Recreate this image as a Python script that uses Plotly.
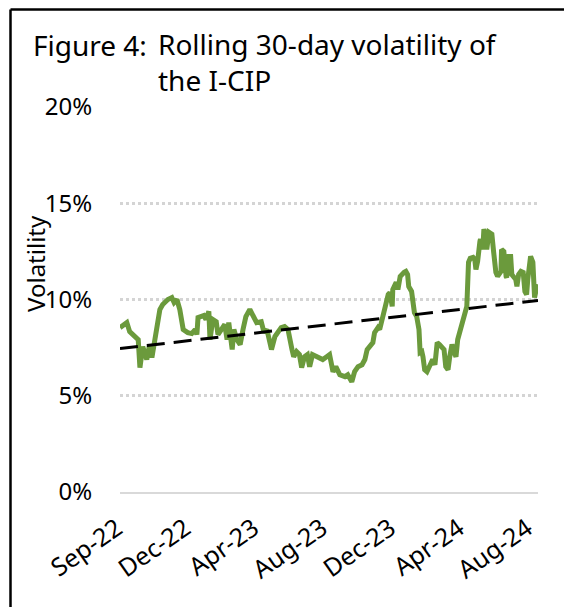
import plotly.graph_objects as go

# ---- data ----
dates = [
    "2022-08-25","2022-09-06","2022-09-11","2022-09-16","2022-09-26","2022-09-29","2022-10-04","2022-10-11",
    "2022-10-16","2022-10-20","2022-10-25","2022-10-29","2022-11-03","2022-11-08","2022-11-17","2022-11-24",
    "2022-11-28","2022-12-03","2022-12-08","2022-12-14","2022-12-22","2022-12-29","2023-01-04","2023-01-07",
    "2023-01-09","2023-01-19","2023-01-23","2023-01-28","2023-01-30","2023-02-04","2023-02-10","2023-02-13",
    "2023-02-20","2023-02-25","2023-03-01","2023-03-04","2023-03-10","2023-03-13","2023-03-18","2023-03-24",
    "2023-03-29","2023-04-03","2023-04-10","2023-04-17","2023-04-22","2023-04-30","2023-05-05","2023-05-10",
    "2023-05-15","2023-05-18","2023-05-24","2023-05-29","2023-06-04","2023-06-10","2023-06-16","2023-06-23",
    "2023-06-26","2023-07-01","2023-07-06","2023-07-10","2023-07-15","2023-07-20","2023-07-24","2023-07-29",
    "2023-08-06","2023-08-11","2023-08-16","2023-08-23","2023-08-28","2023-09-03","2023-09-08","2023-09-15",
    "2023-09-24","2023-09-29","2023-10-06","2023-10-11","2023-10-17","2023-10-24","2023-10-29","2023-11-02",
    "2023-11-07","2023-11-12","2023-11-15","2023-11-21","2023-11-24","2023-11-28","2023-12-02","2023-12-05",
    "2023-12-09","2023-12-12","2023-12-16","2023-12-17","2023-12-23","2023-12-26","2023-12-30","2024-01-06",
    "2024-01-09","2024-01-12","2024-01-14","2024-01-19","2024-01-21","2024-01-24","2024-01-28","2024-02-01",
    "2024-02-03","2024-02-06","2024-02-08","2024-02-11","2024-02-15","2024-02-18","2024-02-22","2024-02-25",
    "2024-02-29","2024-03-04","2024-03-08","2024-03-12","2024-03-16","2024-03-19","2024-03-23","2024-03-26",
    "2024-03-30","2024-04-03","2024-04-06","2024-04-09","2024-04-13","2024-04-18","2024-04-21","2024-04-25",
    "2024-04-28","2024-05-01","2024-05-06","2024-05-09","2024-05-11","2024-05-14","2024-05-18","2024-05-19",
    "2024-05-23","2024-05-25","2024-05-28","2024-05-30","2024-06-03","2024-06-08","2024-06-11","2024-06-15",
    "2024-06-18","2024-06-24","2024-06-25","2024-06-29","2024-07-03","2024-07-04","2024-07-08","2024-07-11",
    "2024-07-13","2024-07-16","2024-07-20","2024-07-22","2024-07-25","2024-07-29","2024-08-02","2024-08-05",
    "2024-08-08","2024-08-10","2024-08-14","2024-08-15","2024-08-19","2024-08-21","2024-08-22","2024-08-26",
    "2024-08-28",
]
volatility = [
    8.54, 8.80, 8.33, 8.18, 7.92, 6.46, 7.55, 6.88,
    7.66, 6.98, 7.92, 8.96, 9.48, 9.74, 10.00, 10.10,
    9.84, 10.00, 9.48, 8.44, 8.28, 8.23, 8.44, 8.18,
    9.06, 9.17, 8.96, 9.38, 7.92, 8.96, 8.85, 8.18,
    8.44, 8.70, 7.92, 8.80, 7.40, 8.44, 7.92, 7.66,
    8.44, 9.11, 9.48, 9.11, 8.80, 8.85, 8.28, 8.44,
    7.66, 7.40, 8.07, 8.28, 8.54, 8.59, 8.44, 7.40,
    7.03, 7.29, 7.14, 6.46, 7.03, 7.14, 6.51, 7.14,
    7.03, 6.98, 6.88, 7.03, 7.14, 6.25, 6.51, 6.09,
    5.99, 6.09, 5.73, 6.25, 6.51, 6.61, 6.88, 7.40,
    7.55, 7.76, 8.28, 8.54, 8.44, 8.96, 9.32, 9.74,
    10.26, 10.36, 9.64, 10.52, 10.89, 10.52, 11.20, 11.41,
    11.46, 11.30, 10.68, 10.42, 9.64, 9.32, 9.11, 8.44,
    7.24, 7.29, 7.03, 6.35, 6.25, 6.46, 6.61, 6.88,
    6.61, 7.76, 7.66, 7.50, 7.40, 6.51, 6.35, 7.03,
    7.66, 7.24, 7.03, 7.92, 8.33, 8.96, 9.38, 9.64,
    11.93, 12.14, 12.19, 12.08, 11.56, 11.98, 13.02, 13.13,
    12.60, 13.65, 13.39, 12.60, 13.49, 13.39, 12.50, 11.41,
    11.20, 11.46, 12.60, 12.50, 11.20, 11.15, 12.24, 12.24,
    11.30, 11.20, 11.04, 10.68, 11.30, 11.46, 11.41, 10.42,
    10.26, 11.04, 12.19, 12.24, 11.93, 10.42, 10.10, 10.68,
    10.78,
]
trend_dates = ["2022-08-25", "2024-08-28"]
trend_values = [7.45, 9.95]

tick_dates = ["2022-09-01", "2022-12-30", "2023-04-29", "2023-08-27",
              "2023-12-25", "2024-04-23", "2024-08-21"]
tick_labels = ["Sep-22", "Dec-22", "Apr-23", "Aug-23", "Dec-23", "Apr-24", "Aug-24"]
y_ticks = [0, 5, 10, 15, 20]
y_tick_labels = ["0%", "5%", "10%", "15%", "20%"]

FONT = "Noto Sans"

fig = go.Figure()
fig.add_trace(go.Scatter(x=dates, y=volatility, mode="lines",
                         line=dict(color="#6B9A3C", width=5), hoverinfo="skip"))
fig.add_trace(go.Scatter(x=trend_dates, y=trend_values, mode="lines",
                         line=dict(color="black", width=3, dash="18px,9px"), hoverinfo="skip"))

OFF = 8  # page body margin
W, H = 572 - OFF, 607 - OFF
L, R, T, B = 120 - OFF, 34, 107 - OFF, 115
pw, ph = W - L - R, H - T - B


def px(xp):
    return (xp - OFF - L) / pw


def py(yp):
    return (H - B - (yp - OFF)) / ph


fig.update_layout(
    width=W, height=H,
    margin=dict(l=L, r=R, t=T, b=B, pad=0, autoexpand=False),
    paper_bgcolor="white", plot_bgcolor="white",
    showlegend=False,
    font=dict(family=FONT, color="black"),
    xaxis=dict(
        type="date", range=["2022-08-25", "2024-08-28"],
        tickvals=tick_dates, ticktext=tick_labels, tickangle=-35,
        tickfont=dict(size=25, family=FONT, color="black"),
        showgrid=False, zeroline=False,
        showline=True, linecolor="#d9d9d9", linewidth=2,
        ticks="outside", ticklen=3, tickcolor="rgba(0,0,0,0)",
        ticklabelshift=-7, ticklabelstandoff=7,
        automargin=False,
    ),
    yaxis=dict(
        range=[0, 20], tickvals=y_ticks, ticktext=y_tick_labels,
        tickfont=dict(size=24, family=FONT, color="black"),
        showgrid=True, gridcolor="#d4d4d4", gridwidth=3, griddash="dot",
        zeroline=False, showline=False,
        ticks="outside", ticklen=22, tickcolor="rgba(0,0,0,0)",
        automargin=False,
    ),
    annotations=[
        dict(text="Figure 4:", x=px(31), y=py(45),
             xref="paper", yref="paper", xanchor="left", yanchor="middle",
             showarrow=False, font=dict(size=28, family=FONT, color="black")),
        dict(text="Rolling 30-day volatility of<br>the I-CIP", x=px(156), y=py(62),
             xref="paper", yref="paper", xanchor="left", yanchor="middle", align="left",
             showarrow=False, font=dict(size=28, family=FONT, color="black")),
        dict(text="Volatility", x=px(35), y=py(264), textangle=-90,
             xref="paper", yref="paper", xanchor="center", yanchor="middle",
             showarrow=False, font=dict(size=24, family=FONT, color="black")),
    ],
    shapes=[
        dict(type="line", xref="paper", yref="paper",
             x0=px(10.5), x1=px(10.5), y0=py(9.5), y1=py(700),
             line=dict(color="black", width=2.5)),
        dict(type="line", xref="paper", yref="paper",
             x0=px(10.5), x1=px(700), y0=py(9.5), y1=py(9.5),
             line=dict(color="black", width=2.5)),
    ],
)

fig.write_html("out.html")
